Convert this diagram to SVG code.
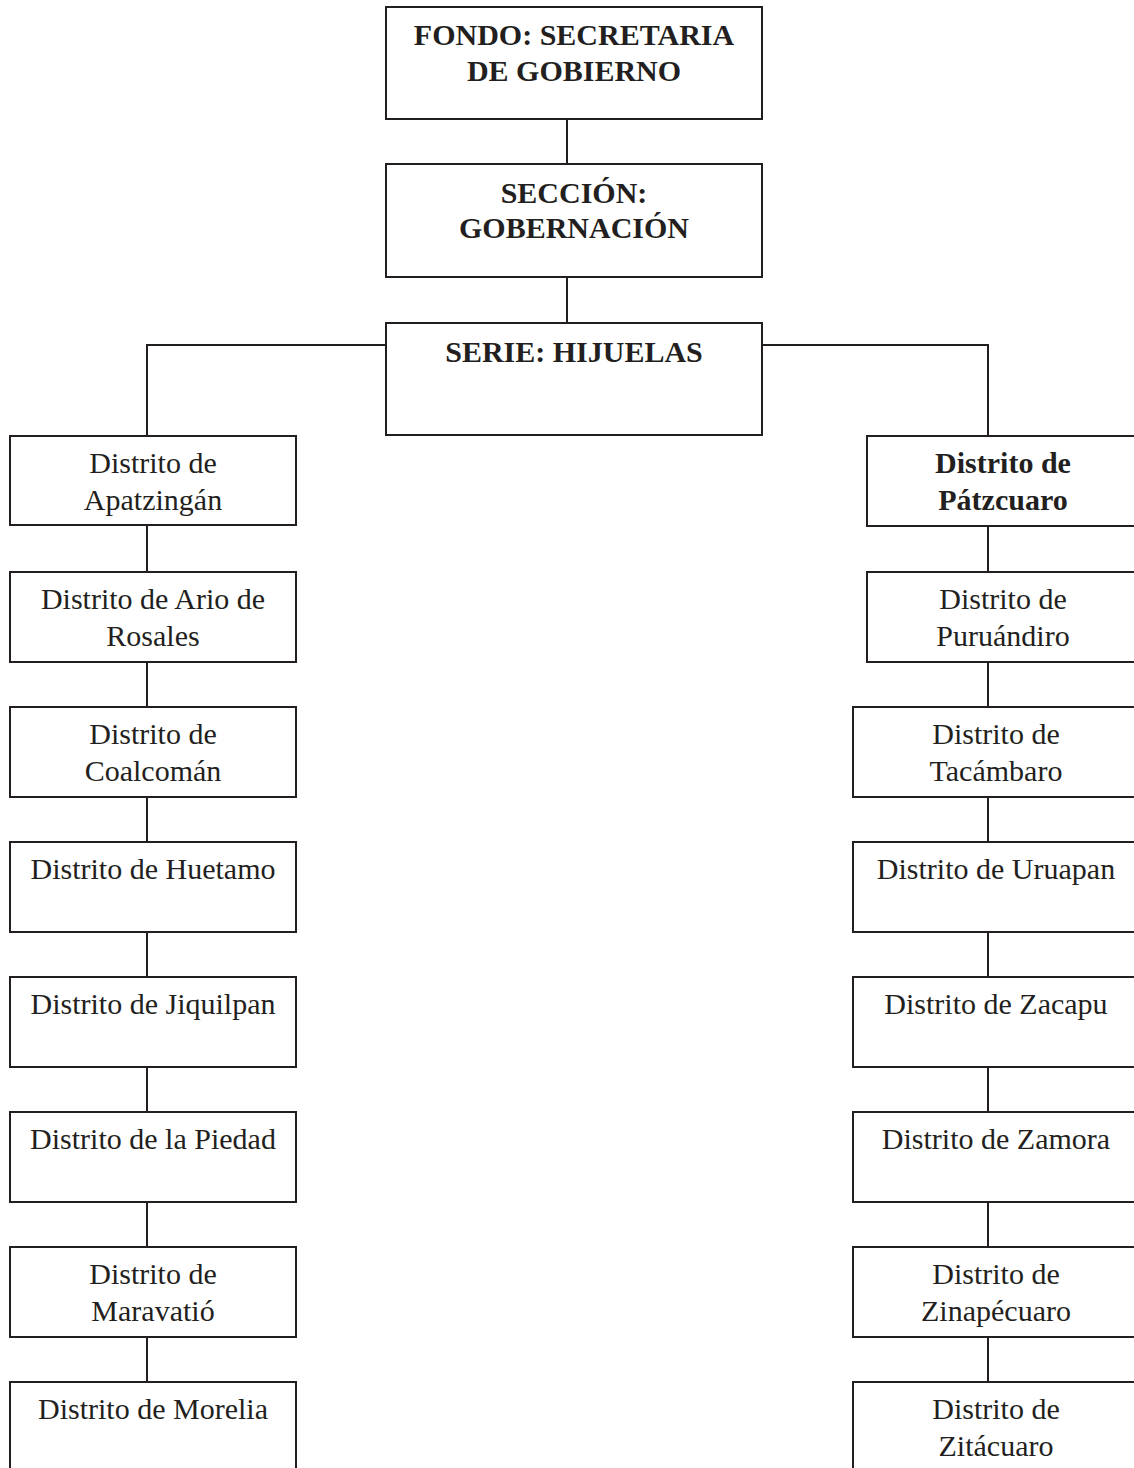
<svg xmlns="http://www.w3.org/2000/svg" width="1134" height="1468" viewBox="0 0 1134 1468">
<style>
.box{fill:#fff;stroke:#231f20;stroke-width:2}
.ln{fill:none;stroke:#231f20;stroke-width:2}
.t{font-family:"Liberation Serif","Times New Roman",serif;font-size:30px;fill:#231f20;text-anchor:middle}
.b{font-weight:bold;font-size:30px}
</style>
<rect width="1134" height="1468" fill="#fff"/>
<g id="connectors">
<path class="ln" d="M567 119V164M567 277V323M386 345H147V436M762 345H988V436"/>
<path class="ln" d="M147 525V572M147 662V707M147 797V842M147 932V977M147 1067V1112M147 1202V1247M147 1337V1382"/>
<path class="ln" d="M988 526V572M988 662V707M988 797V842M988 932V977M988 1067V1112M988 1202V1247M988 1337V1382"/>
</g>
<g id="fondo"><rect class="box" x="386" y="7" width="376" height="112"/><text class="t b" x="574" y="45">FONDO: SECRETARIA</text><text class="t b" x="574" y="81">DE GOBIERNO</text></g>
<g id="seccion"><rect class="box" x="386" y="164" width="376" height="113"/><text class="t b" x="574" y="203">SECCIÓN:</text><text class="t b" x="574" y="238">GOBERNACIÓN</text></g>
<g id="serie"><rect class="box" x="386" y="323" width="376" height="112"/><text class="t b" x="574" y="362">SERIE: HIJUELAS</text></g>
<g id="apatzingan"><rect class="box" x="10" y="436" width="286" height="89"/><text class="t" x="153" y="473">Distrito de</text><text class="t" x="153" y="510">Apatzingán</text></g>
<g id="ario"><rect class="box" x="10" y="572" width="286" height="90"/><text class="t" x="153" y="609">Distrito de Ario de</text><text class="t" x="153" y="646">Rosales</text></g>
<g id="coalcoman"><rect class="box" x="10" y="707" width="286" height="90"/><text class="t" x="153" y="744">Distrito de</text><text class="t" x="153" y="781">Coalcomán</text></g>
<g id="huetamo"><rect class="box" x="10" y="842" width="286" height="90"/><text class="t" x="153" y="879">Distrito de Huetamo</text></g>
<g id="jiquilpan"><rect class="box" x="10" y="977" width="286" height="90"/><text class="t" x="153" y="1014">Distrito de Jiquilpan</text></g>
<g id="piedad"><rect class="box" x="10" y="1112" width="286" height="90"/><text class="t" x="153" y="1149">Distrito de la Piedad</text></g>
<g id="maravatio"><rect class="box" x="10" y="1247" width="286" height="90"/><text class="t" x="153" y="1284">Distrito de</text><text class="t" x="153" y="1321">Maravatió</text></g>
<g id="morelia"><rect class="box" x="10" y="1382" width="286" height="100"/><text class="t" x="153" y="1419">Distrito de Morelia</text></g>
<g id="patzcuaro"><rect class="box" x="867" y="436" width="272" height="90"/><text class="t b" x="1003" y="473">Distrito de</text><text class="t b" x="1003" y="510">Pátzcuaro</text></g>
<g id="puruandiro"><rect class="box" x="867" y="572" width="272" height="90"/><text class="t" x="1003" y="609">Distrito de</text><text class="t" x="1003" y="646">Puruándiro</text></g>
<g id="tacambaro"><rect class="box" x="853" y="707" width="286" height="90"/><text class="t" x="996" y="744">Distrito de</text><text class="t" x="996" y="781">Tacámbaro</text></g>
<g id="uruapan"><rect class="box" x="853" y="842" width="286" height="90"/><text class="t" x="996" y="879">Distrito de Uruapan</text></g>
<g id="zacapu"><rect class="box" x="853" y="977" width="286" height="90"/><text class="t" x="996" y="1014">Distrito de Zacapu</text></g>
<g id="zamora"><rect class="box" x="853" y="1112" width="286" height="90"/><text class="t" x="996" y="1149">Distrito de Zamora</text></g>
<g id="zinapecuaro"><rect class="box" x="853" y="1247" width="286" height="90"/><text class="t" x="996" y="1284">Distrito de</text><text class="t" x="996" y="1321">Zinapécuaro</text></g>
<g id="zitacuaro"><rect class="box" x="853" y="1382" width="286" height="100"/><text class="t" x="996" y="1419">Distrito de</text><text class="t" x="996" y="1456">Zitácuaro</text></g>
</svg>
